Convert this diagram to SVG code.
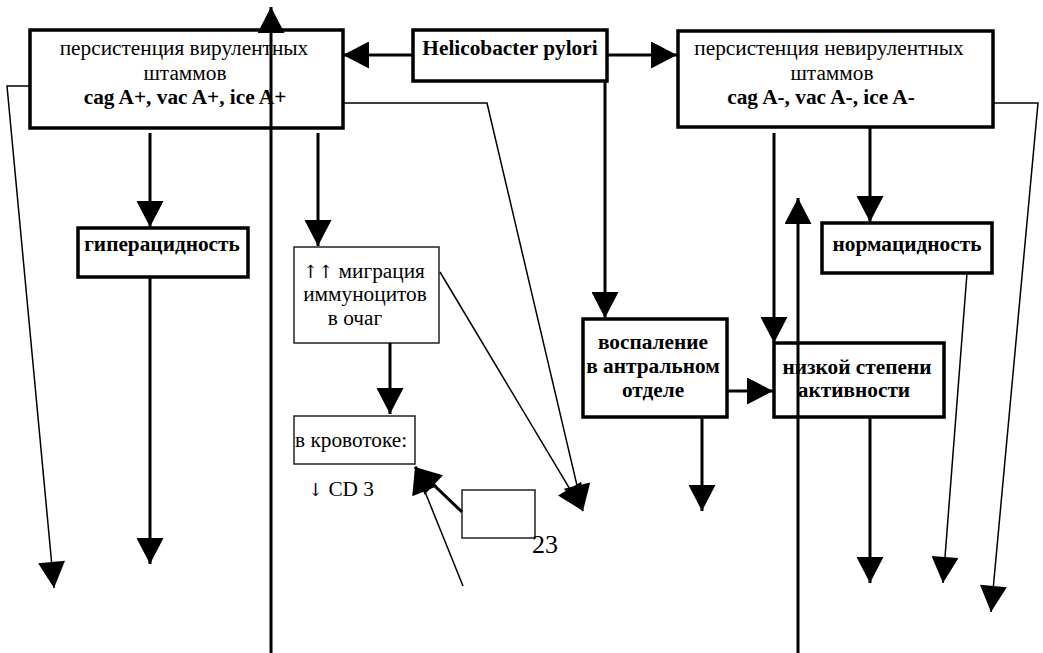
<svg xmlns="http://www.w3.org/2000/svg" width="1043" height="653" viewBox="0 0 1043 653">
<defs>
<marker id="ah" markerUnits="userSpaceOnUse" markerWidth="27" markerHeight="27" viewBox="0 0 26 27" refX="26" refY="13.5" orient="auto">
<path d="M0,0 L26,13.5 L0,27 z" fill="#000"/>
</marker>
<style>
.thick{fill:#fff;stroke:#000;stroke-width:3.5}
.thin{fill:#fff;stroke:#222;stroke-width:1.5}
text{font-family:'Liberation Serif',serif;font-size:21.3px;fill:#000}
.b{font-weight:bold}
.m{text-anchor:middle}
.ar{font-family:'DejaVu Serif','DejaVu Sans',serif;font-size:18px;fill:#000}
.c{fill:none;stroke:#000;stroke-width:3}
.cs{fill:none;stroke:#000;stroke-width:1.5}
.a{marker-end:url(#ah)}
</style>
</defs>
<rect width="1043" height="653" fill="#fff"/>
<g id="nodes" font-family="Liberation Serif, serif" font-size="21.3">
<g id="n-vir">
<rect class="thick" x="30" y="30" width="313" height="98"/>
<text class="m" x="184" y="55">персистенция вирулентных</text>
<text class="m" x="185" y="80">штаммов</text>
<text class="m b" x="185" y="104">cag A+, vac A+, ice A+</text>
</g>
<g id="n-hp">
<rect class="thick" x="413" y="30" width="194" height="51"/>
<text class="m b" x="510" y="55">Helicobacter pylori</text>
</g>
<g id="n-nevir">
<rect class="thick" x="678" y="31" width="315" height="96"/>
<text class="m" x="829" y="55">персистенция невирулентных</text>
<text class="m" x="832" y="80">штаммов</text>
<text class="m b" x="821" y="104">cag A-, vac A-, ice A-</text>
</g>
<g id="n-hyper">
<rect class="thick" x="78" y="228" width="170" height="49"/>
<text class="m b" x="162" y="251">гиперацидность</text>
</g>
<g id="n-migr">
<rect class="thin" x="294" y="247" width="145" height="96"/>
<text class="m" x="364" y="278"><tspan class="ar">↑↑</tspan> миграция</text>
<text class="m" x="365" y="301">иммуноцитов</text>
<text class="m" x="355" y="325">в очаг</text>
</g>
<g id="n-blood">
<rect class="thin" x="294" y="416" width="121" height="48"/>
<text x="295" y="447">в кровотоке:</text>
</g>
<g id="n-cd3">
<text x="308" y="496"><tspan class="ar">↓</tspan> CD 3</text>
</g>
<g id="n-small">
<rect class="thin" x="462" y="490" width="73" height="48"/>
<text x="532" y="553" style="font-size:26px">23</text>
</g>
<g id="n-infl">
<rect class="thick" x="583" y="319" width="144" height="98"/>
<text class="m b" x="653" y="349">воспаление</text>
<text class="m b" x="653" y="373">в антральном</text>
<text class="m b" x="653" y="397">отделе</text>
</g>
<g id="n-low">
<rect class="thick" x="774" y="343" width="170" height="74"/>
<text class="m b" x="857" y="374">низкой степени</text>
<text class="m b" x="854" y="397">активности</text>
</g>
<g id="n-norm">
<rect class="thick" x="822" y="223" width="170" height="50"/>
<text class="m b" x="907" y="251">нормацидность</text>
</g>
</g>
<g id="connectors">
<line class="c a" x1="413" y1="55" x2="343" y2="55"/>
<line class="c a" x1="607" y1="55" x2="677" y2="55"/>
<line class="c a" x1="271" y1="653" x2="271" y2="7"/>
<line class="c a" x1="150" y1="133" x2="150" y2="227"/>
<line class="c a" x1="150" y1="277" x2="150" y2="564"/>
<line class="c a" x1="318" y1="133" x2="318" y2="246"/>
<line class="c a" x1="390" y1="343" x2="390" y2="414"/>
<line class="c a" x1="462" y1="512" x2="415" y2="467"/>
<line class="cs a" x1="463" y1="586" x2="415" y2="467"/>
<polyline class="cs a" points="343,103 487,103 583,511"/>
<line class="cs a" x1="440" y1="272" x2="583" y2="511"/>
<polyline class="cs a" points="30,86 7,86 54,588"/>
<line class="c a" x1="605" y1="81" x2="605" y2="318"/>
<line class="c a" x1="727" y1="391" x2="773" y2="391"/>
<line class="c a" x1="774" y1="133" x2="774" y2="343"/>
<line class="c a" x1="798" y1="653" x2="798" y2="198"/>
<line class="c a" x1="870" y1="127" x2="870" y2="222"/>
<line class="cs a" x1="967" y1="273" x2="943" y2="583"/>
<polyline class="cs a" points="993,103 1038,103 991,612"/>
<line class="c a" x1="702" y1="417" x2="702" y2="511"/>
<line class="c a" x1="870" y1="417" x2="870" y2="583"/>
</g>
</svg>
